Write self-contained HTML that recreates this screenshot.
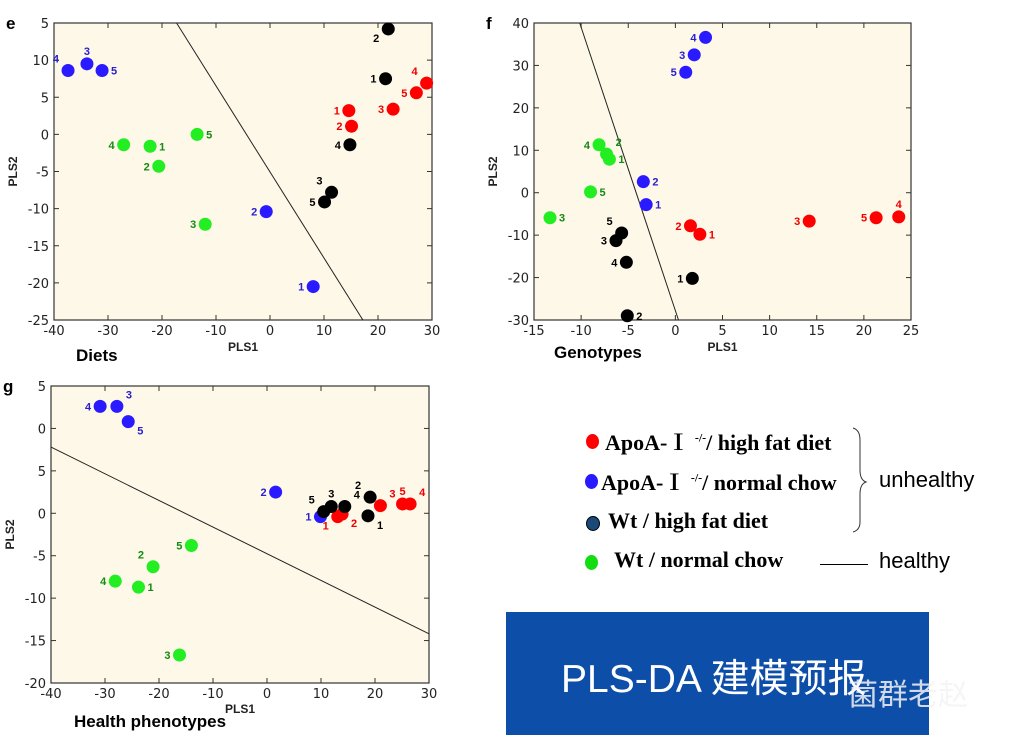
<!DOCTYPE html>
<html><head><meta charset="utf-8">
<style>
body{margin:0;background:#fff;width:1009px;height:745px;overflow:hidden;font-family:"Liberation Sans",sans-serif;}
svg{position:absolute;left:0;top:0}
.leg{position:absolute;font-family:"Liberation Serif","Noto Serif CJK SC",serif;font-weight:bold;font-size:22px;color:#000;white-space:nowrap}
.dot{position:absolute;width:13px;height:15px;border-radius:50%}
</style></head>
<body>
<svg id="chart" width="1009" height="745"></svg>

<div class="dot" style="left:586px;top:434px;background:#f00"></div>
<div class="leg" style="left:605px;top:426px">ApoA-Ⅰ <sup style="font-size:12px">-/-</sup>/ high fat diet</div>
<div class="dot" style="left:585px;top:474px;background:#2a1aff"></div>
<div class="leg" style="left:601px;top:466px">ApoA-Ⅰ <sup style="font-size:12px">-/-</sup>/ normal chow</div>
<div class="dot" style="left:586px;top:516px;background:#1a4a7a;border:1px solid #000;width:12px;height:13px"></div>
<div class="leg" style="left:608px;top:508px">Wt / high fat diet</div>
<div class="dot" style="left:585px;top:555px;background:#11dd11"></div>
<div class="leg" style="left:614px;top:547px">Wt / normal chow</div>
<div style="position:absolute;left:879px;top:467px;font-size:22px">unhealthy</div>
<div style="position:absolute;left:879px;top:548px;font-size:22px">healthy</div>
<div style="position:absolute;left:820px;top:564px;width:48px;height:1px;background:#000"></div>

<div style="position:absolute;left:506px;top:612px;width:423px;height:123px;background:#0d4ea8">
<div style="position:absolute;left:55px;top:36px;color:#fff;font-size:39px;font-family:'Liberation Sans','Noto Sans CJK SC',sans-serif;white-space:nowrap">PLS-DA 建模预报</div>
</div>
<div style="position:absolute;left:848px;top:670px;color:#f4f4f4;font-size:30px;font-family:'Noto Sans CJK SC',sans-serif;opacity:.85;white-space:nowrap">菌群老赵</div>

<script>
// ---------- data ----------
const groups = ["red","blue","black","green"];
const groupColors = {red:"#ff0000",blue:"#2a1aff",black:"#000000",green:"#22ee22"};
const labelColors = {red:"#ee0000",blue:"#2a20d0",black:"#000000",green:"#138a13"};
const sampleIds = [1,2,3,4,5];

// Panel e (Diets)
const eX = {red:[14.6,15.1,22.8,29.0,27.1], blue:[8.0,-0.7,-33.9,-37.4,-31.1], black:[21.4,21.9,11.4,14.8,10.1], green:[-22.2,-20.6,-12.0,-27.1,-13.5]};
const eY = {red:[3.2,1.1,3.4,6.9,5.6], blue:[-20.5,-10.4,9.5,8.6,8.6], black:[7.5,14.2,-7.8,-1.4,-9.1], green:[-1.6,-4.3,-12.1,-1.4,0]};
const eSide = {red:["l","l","l","tl","l"], blue:["l","l","t","tl","r"], black:["l","bl","tl","l","l"], green:["r","l","l","l","r"]};
const eXTicks = [-40,-30,-20,-10,0,10,20,30];
const eYTicks = [-25,-20,-15,-10,-5,0,5,10,15];
const eYTickLabels = ["-25","-20","-15","-10","-5","0","5","10","5"];
const eLine = [[-17.3,15],[17.2,-25]];

// Panel f (Genotypes)
const fX = {red:[2.6,1.6,14.2,23.7,21.3], blue:[-3.1,-3.4,2.0,3.2,1.1], black:[1.8,-5.1,-6.3,-5.2,-5.7], green:[-7.0,-7.3,-13.3,-8.1,-9.0]};
const fY = {red:[-9.8,-7.8,-6.7,-5.7,-5.9], blue:[-2.8,2.6,32.5,36.6,28.4], black:[-20.2,-29.0,-11.3,-16.4,-9.5], green:[7.9,9.1,-5.9,11.3,0.2]};
const fSide = {red:["r","l","l","t","l"], blue:["r","r","l","l","l"], black:["l","r","l","l","tl"], green:["r","tr","r","l","r"]};
const fXTicks = [-15,-10,-5,0,5,10,15,20,25];
const fYTicks = [-30,-20,-10,0,10,20,30,40];
const fYTickLabels = ["-30","-20","-10","0","10","20","30","40"];
const fLine = [[-10.15,40],[0.33,-30]];

// Panel g (Health phenotypes)
const gX = {red:[13.1,13.9,21.0,26.5,25.1], blue:[9.9,1.6,-27.8,-30.9,-25.7], black:[18.7,19.1,11.9,14.4,10.5], green:[-23.8,-21.1,-16.2,-28.1,-14.0]};
const gY = {red:[-0.4,-0.1,0.9,1.1,1.1], blue:[-0.4,2.5,12.6,12.6,10.8], black:[-0.3,1.9,0.8,0.8,0.2], green:[-8.7,-6.3,-16.7,-8.0,-3.8]};
const gSide = {red:["bl","br","tr","tr","t"], blue:["l","l","tr","l","br"], black:["br","tl","t","tr","tl"], green:["r","tl","l","l","l"]};
const gXTicks = [-40,-30,-20,-10,0,10,20,30];
const gYTicks = [-20,-15,-10,-5,0,5,10,15];
const gYTickLabels = ["-20","-15","-10","-5","0","5","0","5"];
const gLine = [[-40,7.8],[30,-14.2]];

// ---------- drawing ----------
const NS="http://www.w3.org/2000/svg";
const svg=document.getElementById('chart');
function mk(tag,attrs,parent){const el=document.createElementNS(NS,tag);for(const k in attrs)el.setAttribute(k,attrs[k]);(parent||svg).appendChild(el);return el;}

function panel(cfg){
  const {name,L,T,R,B,xDom,yDom,xTicks,yTicks,yLabels,X,Y,S,line,letter,title,titleX,titleY,pls1Y}=cfg;
  const g=mk('g',{});
  
  
  const sx=v=>L+(v-xDom[0])/(xDom[1]-xDom[0])*(R-L);
  const sy=v=>B-(v-yDom[0])/(yDom[1]-yDom[0])*(B-T);
  const bg=mk('rect',{x:L,y:T,width:R-L,height:B-T,fill:'#fdf8e7',stroke:'#333','stroke-width':1.2},g);
  
  
  xTicks.forEach(t=>{
    const x=sx(t);
    mk('line',{x1:x,x2:x,y1:B,y2:B-5,stroke:'#333'},g);
    mk('line',{x1:x,x2:x,y1:T,y2:T+5,stroke:'#333'},g);
    const tx=mk('text',{x:x,y:B+15,'text-anchor':'middle','font-size':14,fill:'#222','font-family':'DejaVu Sans, sans-serif','font-size-adjust':'none'},g);
    tx.setAttribute('font-size','13');
    tx.textContent=t;
    
    
  });
  yTicks.forEach((t,i)=>{
    const y=sy(t);
    mk('line',{x1:L,x2:L+5,y1:y,y2:y,stroke:'#333'},g);
    mk('line',{x1:R,x2:R-5,y1:y,y2:y,stroke:'#333'},g);
    const ty=mk('text',{x:L-5,y:y+5,'text-anchor':'end','font-size':13,fill:'#222','font-family':'DejaVu Sans, sans-serif'},g);
    ty.textContent=yLabels[i];
    
    
  });
  const ln=mk('line',{x1:sx(line[0][0]),y1:sy(line[0][1]),x2:sx(line[1][0]),y2:sy(line[1][1]),stroke:'#222','stroke-width':1},g);
  
  
  groups.forEach(gr=>{
    sampleIds.forEach((id,i)=>{
      const cx=sx(X[gr][i]), cy=sy(Y[gr][i]);
      const c=mk('circle',{cx:cx,cy:cy,r:6.5,fill:groupColors[gr]},g);
      
      
      const s=S[gr][i];
      let dx=0,dy=4,anchor='middle';
      if(s.includes('l')){dx=-9;anchor='end';}
      if(s.includes('r')){dx=9;anchor='start';}
      if(s.includes('t')){dy=-8;if(s==='t')dy=-9;}
      if(s.includes('b')){dy=13;}
      const lb=mk('text',{x:cx+dx,y:cy+dy,'text-anchor':anchor,'font-size':11,'font-weight':'bold',fill:labelColors[gr]},g);
      lb.textContent=id;
      
      
    });
  });
  const p1=mk('text',{x:(L+R)/2,y:pls1Y,'text-anchor':'middle','font-size':12,'font-weight':'bold',fill:'#222'},g);
  p1.textContent='PLS1';
  
  
  const p2=mk('text',{x:0,y:0,'text-anchor':'middle','font-size':12,'font-weight':'bold',fill:'#222',transform:`translate(${L-37},${(T+B)/2}) rotate(-90)`},g);
  p2.textContent='PLS2';
  
  
  const lt=mk('text',{x:L-48,y:T+6,'font-size':17,'font-weight':'bold',fill:'#000'},g);
  lt.textContent=letter;
  
  
  const tt=mk('text',{x:titleX,y:titleY,'font-size':17,'font-weight':'bold',fill:'#000'},g);
  tt.textContent=title;
  
  
}

panel({name:'diets',L:54,T:23,R:432,B:320,xDom:[-40,30],yDom:[-25,15],xTicks:eXTicks,yTicks:eYTicks,yLabels:eYTickLabels,X:eX,Y:eY,S:eSide,line:eLine,letter:'e',title:'Diets',titleX:76,titleY:361,pls1Y:351});
panel({name:'genotypes',L:534,T:23,R:911,B:320,xDom:[-15,25],yDom:[-30,40],xTicks:fXTicks,yTicks:fYTicks,yLabels:fYTickLabels,X:fX,Y:fY,S:fSide,line:fLine,letter:'f',title:'Genotypes',titleX:554,titleY:358,pls1Y:351});
panel({name:'health',L:51,T:386,R:429,B:683,xDom:[-40,30],yDom:[-20,15],xTicks:gXTicks,yTicks:gYTicks,yLabels:gYTickLabels,X:gX,Y:gY,S:gSide,line:gLine,letter:'g',title:'Health phenotypes',titleX:74,titleY:727,pls1Y:713});

const br=mk('path',{d:'M853,428 Q860,430 860,440 L860,470 Q860,480 866,482 Q860,484 860,494 L860,522 Q860,530 853,532',fill:'none',stroke:'#333','stroke-width':1});


</script>
</body></html>
